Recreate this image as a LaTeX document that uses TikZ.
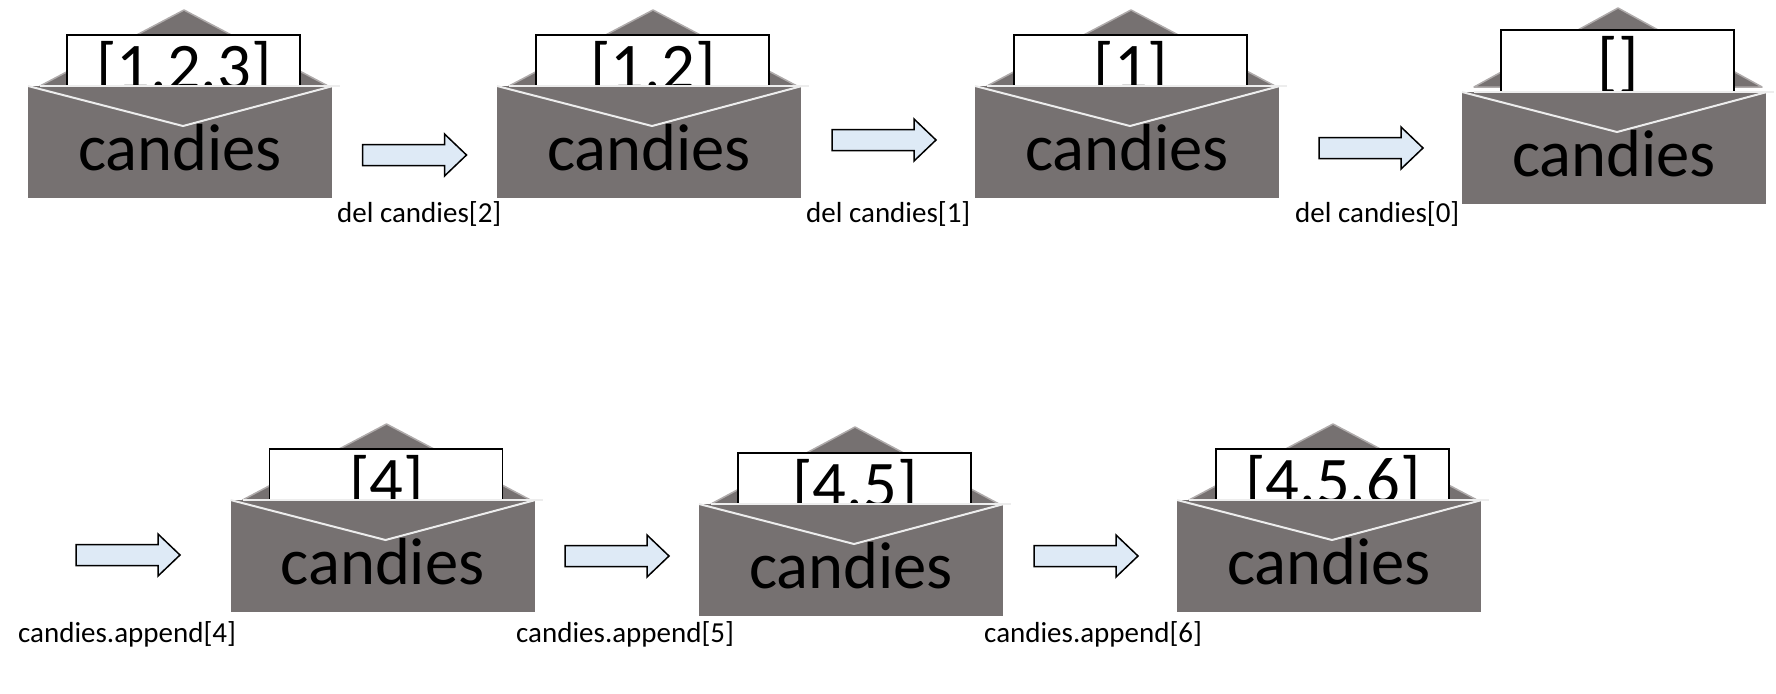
\documentclass[tikz,border=0pt]{standalone}
\usepackage{fontspec}
\setmainfont{Carlito}
\definecolor{envfill}{HTML}{767171}
\definecolor{envedge}{HTML}{AFABAB}
\definecolor{arrowfill}{HTML}{DEEAF6}
\tikzset{
  envback/.style={fill=envfill,draw=envedge,line width=1.5pt,line join=round},
  envbody/.style={fill=envfill,draw=none},
  envline/.style={draw=white!93!black,line width=2pt},
  paper/.style={fill=white,draw=black,line width=1.5pt},
  bigtext/.style={anchor=base,inner sep=0pt,font=\fontsize{66.6}{70}\selectfont,text=black},
  steplabel/.style={anchor=base west,inner sep=0pt,font=\fontsize{29}{32}\selectfont,text=black},
  blockarrow/.style={fill=arrowfill,draw=black,line width=1.5pt,line join=miter}
}
% name, x, body top, triangle base, apex y, paper top, text
\newcommand{\envelope}[7]{%
  \draw[envback] (#2+12,#4) -- (#2+156,#5) -- (#2+300,#4) -- cycle;
  \draw[paper] (#2+39,#3) -- (#2+39,#6) -- (#2+272,#6) -- (#2+272,#3);
  \node[bigtext] (#1list) at (#2+156,#6+54.5) {#7};
  \fill[envbody] (#2,#3) rectangle (#2+304,#3+112);
  \draw[envline] (#2+12,#3) -- (#2+312,#3);
  \draw[envline] (#2,#3) -- (#2+155,#3+40) -- (#2+305,#3);
  \node[bigtext] (#1name) at (#2+152,#3+84.5) {candies};
}
% x, centre y
\newcommand{\blockarrow}[2]{%
  \draw[blockarrow] (#1,#2-10.5) -- (#1+82,#2-10.5) -- (#1+82,#2-21) -- (#1+104,#2)
    -- (#1+82,#2+21) -- (#1+82,#2+10.5) -- (#1,#2+10.5) -- cycle;
}
\begin{document}
\begin{tikzpicture}[x=1pt,y=-1pt]
\useasboundingbox (0,0) rectangle (1776,693);
\envelope{a}{28}{86}{86}{10}{35}{[1,2,3]}
\envelope{b}{497}{86}{86}{10}{35}{[1,2]}
\envelope{c}{975}{86}{86}{10}{35}{[1]}
\envelope{d}{1462}{92}{87}{8}{30}{[]}
\envelope{e}{230.5}{500}{500}{424}{449}{[4]}
\envelope{f}{699}{504}{504}{427}{453}{[4,5]}
\envelope{g}{1177}{500}{500}{424}{449}{[4,5,6]}
\blockarrow{362.5}{155}
\blockarrow{832}{140}
\blockarrow{1319}{148}
\blockarrow{76}{555}
\blockarrow{565}{556}
\blockarrow{1034}{556}
\node[steplabel] (la) at (337,222) {del candies[2]};
\node[steplabel] (lb) at (806,222) {del candies[1]};
\node[steplabel] (lc) at (1295,222) {del candies[0]};
\node[steplabel] (ld) at (18,642) {candies.append[4]};
\node[steplabel] (le) at (516,642) {candies.append[5]};
\node[steplabel] (lf) at (984,642) {candies.append[6]};
\end{tikzpicture}
\end{document}
